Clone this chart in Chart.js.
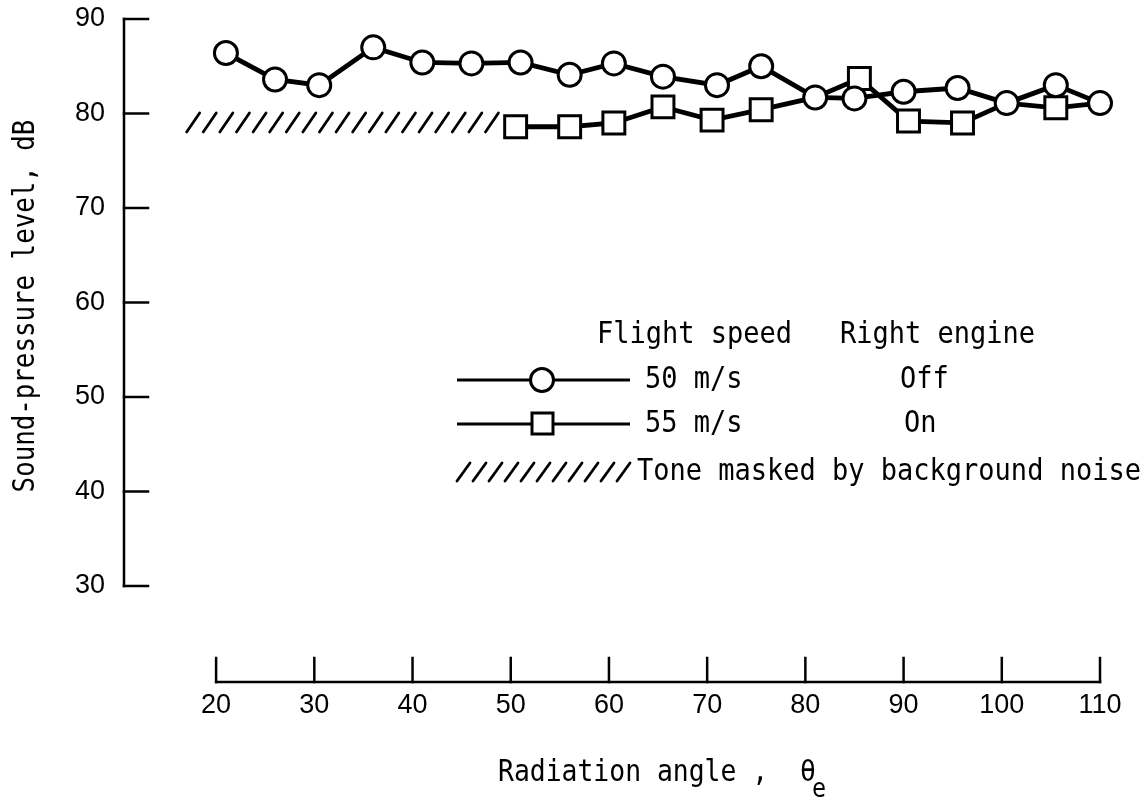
<!DOCTYPE html>
<html>
<head>
<meta charset="utf-8">
<script src="https://cdn.jsdelivr.net/npm/chart.js@4.4.1/dist/chart.umd.min.js"></script>
<style>
  html, body { margin: 0; padding: 0; background: #fff; }
  #chart { display: block; }
</style>
</head>
<body>
<canvas id="chart" width="1148" height="797"></canvas>
<script>
// radiation angle (deg) and sound-pressure level (dB), right engine off, 50 m/s
const offAngles = [21, 26, 30.5, 36, 41, 46, 51, 56, 60.5, 65.5, 71, 75.5, 81, 85, 90, 95.5, 100.5, 105.5, 110];
const offLevels = [86.4, 83.6, 83.0, 87.0, 85.4, 85.3, 85.4, 84.1, 85.3, 83.9, 83.0, 85.0, 81.7, 81.6, 82.3, 82.7, 81.1, 83.0, 81.1];

// right engine on, 55 m/s; some points sit under the circles and get no marker
const onAngles = [50.5, 56, 60.5, 65.5, 70.5, 75.5, 81, 85.5, 90.5, 96, 100.5, 105.5, 110];
const onLevels = [78.6, 78.6, 79.0, 80.7, 79.3, 80.4, 81.7, 83.7, 79.2, 79.0, 81.1, 80.6, 81.1];
const onMarked = [true, true, true, true, true, true, false, true, true, true, false, true, false];

// tone masked by background noise
const maskedFrom = 17;
const maskedTo = 49.2;
const maskedLevel = 79.05;

const xTicks = [20, 30, 40, 50, 60, 70, 80, 90, 100, 110];
const yTicks = [30, 40, 50, 60, 70, 80, 90];

const MONO = '"DejaVu Sans Mono", "Liberation Mono", monospace';
const SANS = '"Liberation Sans", Arial, sans-serif';
const INK = '#000';

function toPoints(xs, ys) {
    return xs.map((x, i) => ({ x: x, y: ys[i] }));
}

// narrow typewriter-style lettering
function label(ctx, str, x, y, size, squeeze) {
    ctx.save();
    ctx.translate(x, y);
    ctx.scale(squeeze, 1);
    ctx.font = size + 'px ' + MONO;
    ctx.fillText(str, 0, 0);
    ctx.restore();
}

function drawHatch(ctx, x0, x1, yMid, half, step) {
    ctx.save();
    ctx.strokeStyle = INK;
    ctx.lineWidth = 2.8;
    ctx.lineCap = 'round';
    for (let x = x0; x + 13 <= x1 + 0.5; x += step) {
        ctx.beginPath();
        ctx.moveTo(x, yMid + half);
        ctx.lineTo(x + 13, yMid - half);
        ctx.stroke();
    }
    ctx.restore();
}

// detached axes with inward ticks, and the hatched band
const axesPlugin = {
    id: 'axesPlugin',
    beforeDatasetsDraw(chart) {
        const ctx = chart.ctx;
        const xs = chart.scales.x;
        const ys = chart.scales.y;
        ctx.save();
        ctx.strokeStyle = INK;
        ctx.lineWidth = 2.5;
        ctx.lineCap = 'square';

        const yAxisX = chart.chartArea.left + 1;
        ctx.beginPath();
        ctx.moveTo(yAxisX, ys.getPixelForValue(yTicks[yTicks.length - 1]));
        ctx.lineTo(yAxisX, ys.getPixelForValue(yTicks[0]));
        ctx.stroke();
        yTicks.forEach(v => {
            const py = ys.getPixelForValue(v);
            ctx.beginPath();
            ctx.moveTo(yAxisX, py);
            ctx.lineTo(yAxisX + 24, py);
            ctx.stroke();
        });

        const xAxisY = chart.chartArea.bottom;
        ctx.beginPath();
        ctx.moveTo(xs.getPixelForValue(xTicks[0]), xAxisY);
        ctx.lineTo(xs.getPixelForValue(xTicks[xTicks.length - 1]), xAxisY);
        ctx.stroke();
        xTicks.forEach(v => {
            const px = xs.getPixelForValue(v);
            ctx.beginPath();
            ctx.moveTo(px, xAxisY);
            ctx.lineTo(px, xAxisY - 24);
            ctx.stroke();
        });
        ctx.restore();

        const top = ys.getPixelForValue(maskedLevel + 1);
        const bottom = ys.getPixelForValue(maskedLevel - 1);
        drawHatch(ctx, xs.getPixelForValue(maskedFrom), xs.getPixelForValue(maskedTo),
            (top + bottom) / 2, (bottom - top) / 2, 16.6);
    },
    afterDraw(chart) {
        const ctx = chart.ctx;
        ctx.save();
        ctx.fillStyle = INK;
        ctx.textBaseline = 'middle';
        ctx.textAlign = 'left';

        // axis titles
        label(ctx, 'Radiation angle ,  \u03b8', 498, 773, 30, 0.88);
        label(ctx, 'e', 812, 790, 26, 0.9);

        ctx.save();
        ctx.translate(26, 306);
        ctx.rotate(-Math.PI / 2);
        ctx.textAlign = 'center';
        label(ctx, 'Sound-pressure level, dB', 0, 0, 30, 0.86);
        ctx.restore();

        // key
        label(ctx, 'Flight speed', 597, 335, 30, 0.9);
        label(ctx, 'Right engine', 840, 335, 30, 0.9);
        label(ctx, '50 m/s', 645, 380, 30, 0.9);
        label(ctx, 'Off', 900, 380, 30, 0.9);
        label(ctx, '55 m/s', 645, 424, 30, 0.9);
        label(ctx, 'On', 904, 424, 30, 0.9);
        label(ctx, 'Tone masked by background noise', 637, 472, 30, 0.9);

        ctx.strokeStyle = INK;
        ctx.lineWidth = 3;
        [380, 424].forEach(y => {
            ctx.beginPath();
            ctx.moveTo(457, y);
            ctx.lineTo(630, y);
            ctx.stroke();
        });
        ctx.fillStyle = '#fff';
        ctx.beginPath();
        ctx.arc(542, 380, 11.5, 0, Math.PI * 2);
        ctx.fill();
        ctx.stroke();
        ctx.fillRect(532, 413, 21, 21);
        ctx.strokeRect(532, 413, 21, 21);

        drawHatch(ctx, 457, 632, 472, 9, 16);
        ctx.restore();
    }
};

new Chart(document.getElementById('chart'), {
    type: 'scatter',
    data: {
        datasets: [
            {
                label: '50 m/s, Off',
                data: toPoints(offAngles, offLevels),
                showLine: true,
                borderColor: INK,
                borderWidth: 4.8,
                pointStyle: 'circle',
                pointRadius: 11.5,
                pointBorderWidth: 3,
                pointBackgroundColor: '#fff',
                pointBorderColor: INK
            },
            {
                label: '55 m/s, On',
                data: toPoints(onAngles, onLevels),
                showLine: true,
                borderColor: INK,
                borderWidth: 4.8,
                pointStyle: 'rect',
                pointRadius: onMarked.map(m => m ? 15.5 : 0),
                pointBorderWidth: 3,
                pointBackgroundColor: '#fff',
                pointBorderColor: INK
            }
        ]
    },
    options: {
        responsive: false,
        devicePixelRatio: 1,
        animation: false,
        clip: false,
        layout: { padding: { top: 19, right: 48, left: 0, bottom: 0 } },
        plugins: {
            legend: { display: false },
            tooltip: { enabled: false }
        },
        scales: {
            x: {
                type: 'linear',
                min: 10.52,
                max: 110,
                afterFit(scale) {
                    scale.height = 115;
                    scale.paddingLeft = 0;
                    scale.paddingRight = 0;
                },
                afterBuildTicks(scale) { scale.ticks = xTicks.map(v => ({ value: v })); },
                grid: { display: false, drawTicks: false },
                border: { display: false },
                ticks: {
                    padding: 7,
                    color: INK,
                    font: { family: SANS, size: 27 }
                }
            },
            y: {
                type: 'linear',
                min: 19.84,
                max: 90,
                afterFit(scale) {
                    scale.width = 123;
                    scale.paddingTop = 0;
                    scale.paddingBottom = 0;
                },
                afterBuildTicks(scale) { scale.ticks = yTicks.map(v => ({ value: v })); },
                grid: { display: false, drawTicks: false },
                border: { display: false },
                ticks: {
                    padding: 18,
                    color: INK,
                    font: { family: SANS, size: 27 }
                }
            }
        }
    },
    plugins: [axesPlugin]
});
</script>
</body>
</html>
